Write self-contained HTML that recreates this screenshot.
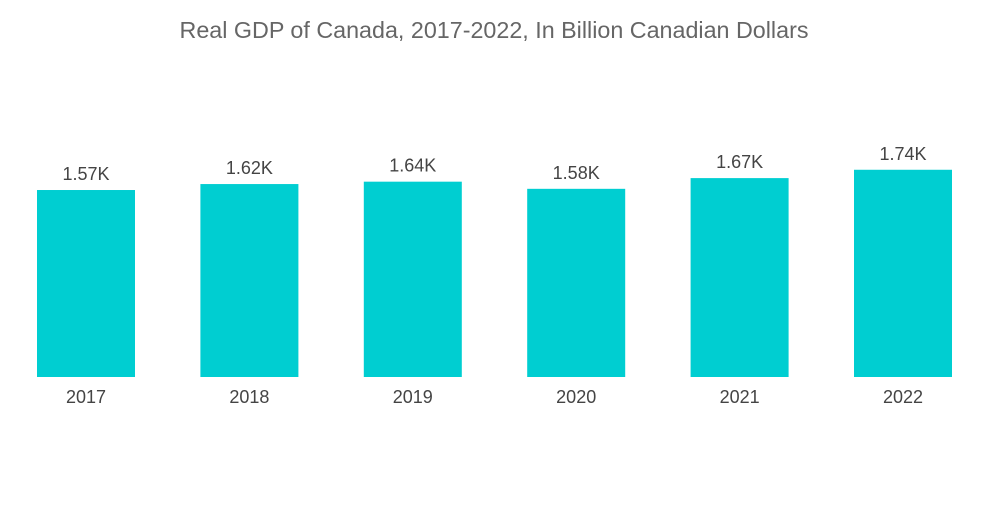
<!DOCTYPE html>
<html><head><meta charset="utf-8"><style>
body{margin:0;background:#fff;width:1000px;height:504px;overflow:hidden;font-family:"Liberation Sans",sans-serif}
</style></head><body>
<svg width="1000" height="504">
<text x="494" y="38" text-anchor="middle" font-size="23.3" fill="#666">Real GDP of Canada, 2017-2022, In Billion Canadian Dollars</text>
<g id="bars"></g>
</svg>
<script>
const categories=["2017","2018","2019","2020","2021","2022"];
const values=[1.57,1.62,1.64,1.58,1.67,1.74];
const valueLabels=["1.57K","1.62K","1.64K","1.58K","1.67K","1.74K"];
const baseY=377, pxPerUnit=119.1, firstX=37, step=163.4, barW=98;
function yScale(v){return baseY-v*pxPerUnit;}
function xScale(i){return firstX+i*step;}
const g=document.getElementById('bars');
const ns="http://www.w3.org/2000/svg";
categories.forEach((c,i)=>{
  const x=xScale(i), y=yScale(values[i]);
  const r=document.createElementNS(ns,'rect');
  r.setAttribute('x',x);r.setAttribute('y',y);r.setAttribute('width',barW);r.setAttribute('height',baseY-y);r.setAttribute('fill','#00ced1');
  
  
  g.appendChild(r);
  const t=document.createElementNS(ns,'text');
  t.setAttribute('x',x+barW/2);t.setAttribute('y',y-10);t.setAttribute('text-anchor','middle');t.setAttribute('font-size','18');t.setAttribute('fill','#444');
  t.textContent=valueLabels[i];
  
  
  g.appendChild(t);
  const l=document.createElementNS(ns,'text');
  l.setAttribute('x',x+barW/2);l.setAttribute('y',403);l.setAttribute('text-anchor','middle');l.setAttribute('font-size','18');l.setAttribute('fill','#444');
  l.textContent=c;
  
  
  g.appendChild(l);
});
</script>
</body></html>
